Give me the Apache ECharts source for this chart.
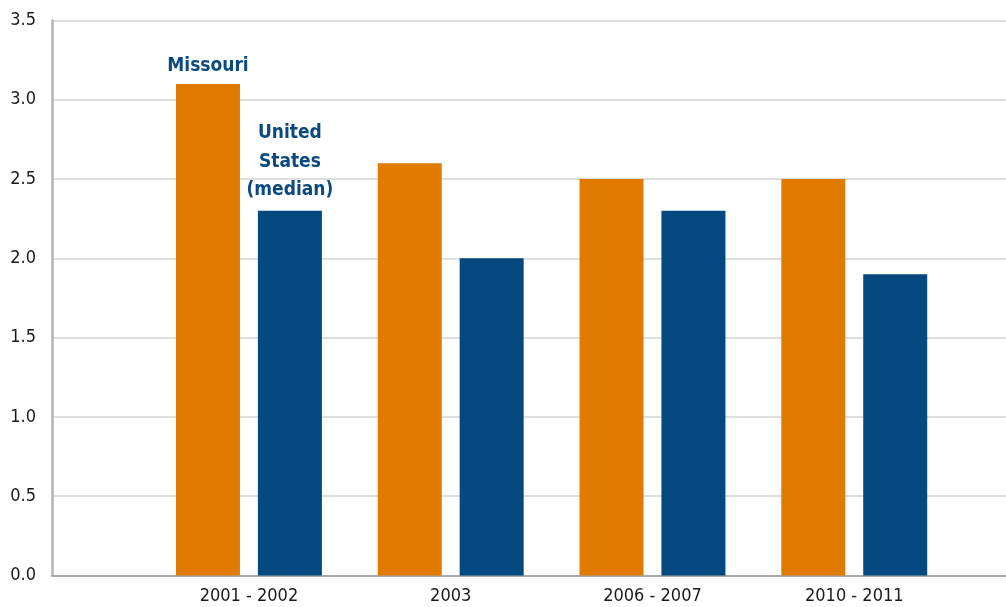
<!DOCTYPE html>
<html>
<head>
<meta charset="utf-8">
<script src="https://cdn.jsdelivr.net/npm/echarts@6/dist/echarts.min.js"></script>
<style>
  html, body { margin: 0; padding: 0; background: #ffffff; }
  #chart { width: 1006px; height: 607px; }
</style>
</head>
<body>
<div id="chart"></div>
<script>
// Periods on the horizontal axis
const periods = ['2001 - 2002', '2003', '2006 - 2007', '2010 - 2011'];
// Series values
const missouri = [3.1, 2.6, 2.5, 2.5];
const usMedian = [2.3, 2.0, 2.3, 1.9];
// Series names and the callout text shown above the first pair of bars
const seriesNames = ['Missouri', 'United States (median)'];
const calloutText = ['Missouri', 'United\nStates\n(median)'];
// Vertical axis ticks
const yTicks = [0, 0.5, 1.0, 1.5, 2.0, 2.5, 3.0, 3.5];

const FONT = "'Liberation Sans Narrow', 'DejaVu Sans Condensed', 'Liberation Sans', sans-serif";
const ORANGE = '#e07b00';
const BLUE = '#03487f';
const LABEL_BLUE = '#0b4a80';

// Each period sits at slot 1..n on a numeric x axis
function toPoints(values, callout, distance) {
  return values.map((v, i) => {
    const item = { value: [i + 1, v] };
    if (i === 0) {
      item.label = {
        show: true,
        position: 'top',
        distance: distance,
        formatter: callout,
        color: LABEL_BLUE,
        fontFamily: FONT,
        fontWeight: 'bold',
        fontSize: 19,
        lineHeight: 28.5,
        align: 'center'
      };
    }
    return item;
  });
}

const chart = echarts.init(document.getElementById('chart'), null, { renderer: 'canvas' });

chart.setOption({
  animation: false,
  backgroundColor: '#ffffff',
  grid: { left: 52, right: 0, top: 20.5, bottom: 31.5, containLabel: false },
  xAxis: {
    type: 'value',
    min: 0.024,
    max: 4.752,
    axisLine: { show: true, lineStyle: { color: '#ababab', width: 2 } },
    axisTick: { show: false },
    splitLine: { show: false },
    axisLabel: {
      customValues: periods.map((p, i) => i + 1),
      formatter: v => periods[Math.round(v) - 1] || '',
      color: '#1a1a1a',
      fontFamily: FONT,
      fontSize: 18,
      margin: 12
    }
  },
  yAxis: {
    type: 'value',
    min: yTicks[0],
    max: yTicks[yTicks.length - 1],
    interval: 0.5,
    axisLine: { show: true, lineStyle: { color: '#b3b3b3', width: 2.5 } },
    axisTick: { show: false },
    splitLine: { show: true, lineStyle: { color: '#dedede', width: 2 } },
    axisLabel: {
      formatter: v => v.toFixed(1),
      color: '#1a1a1a',
      fontFamily: FONT,
      fontSize: 18,
      margin: 16
    }
  },
  series: [
    {
      name: seriesNames[0],
      type: 'bar',
      barWidth: 64,
      barGap: '28%',
      itemStyle: { color: ORANGE, borderWidth: 0 },
      data: toPoints(missouri, calloutText[0], 4)
    },
    {
      name: seriesNames[1],
      type: 'bar',
      barWidth: 64,
      barGap: '28%',
      itemStyle: { color: BLUE, borderWidth: 0 },
      data: toPoints(usMedian, calloutText[1], 6)
    }
  ]
});
</script>
</body>
</html>
